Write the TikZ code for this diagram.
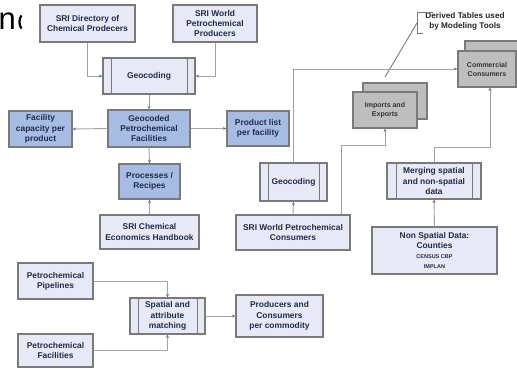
\documentclass[tikz,border=0pt]{standalone}
\usepackage{fontspec}
\setmainfont{Liberation Sans}
\usetikzlibrary{arrows.meta}
\definecolor{lfill}{HTML}{E7EAF6}
\definecolor{bfill}{HTML}{A7BCE2}
\definecolor{gfill}{HTML}{BEBEBE}
\definecolor{bord}{HTML}{7A7A7A}
\definecolor{lcol}{HTML}{A2A2A2}
\definecolor{acol}{HTML}{5E73A0}
\definecolor{tcol}{HTML}{1F2B4A}
\tikzset{
  base/.style={draw=bord, line width=1.2pt, align=center, inner sep=0pt,
    text=tcol, font=\fontsize{8.4}{10.2}\selectfont\bfseries},
  lbox/.style={base, fill=lfill},
  bbox/.style={base, fill=bfill},
  gbox/.style={base, fill=gfill, text=black!80, font=\fontsize{7}{9}\selectfont\bfseries},
  procbox/.style={lbox, path picture={
      \draw[bord, line width=0.9pt] ([xshift=#1]path picture bounding box.north west) -- ([xshift=#1]path picture bounding box.south west);
      \draw[bord, line width=0.9pt] ([xshift=-#1]path picture bounding box.north east) -- ([xshift=-#1]path picture bounding box.south east);}},
  conn/.style={draw=lcol, line width=0.9pt, -{Stealth[length=3.5pt,width=3pt,color=acol]}},
}
\begin{document}
\begin{tikzpicture}[x=1pt,y=-1pt]
\useasboundingbox (0,0) rectangle (517,368);
\fill[white] (0,0) rectangle (517,368);
% title fragment (partly hidden)
\node[anchor=base west, inner sep=0pt, font=\fontsize{31}{31}\selectfont, text=black] (title) at (-1.5,29) {n};
\draw[black, line width=2.2pt] (21.5,15.5) .. controls (18.8,18) and (18.8,26) .. (21.5,28.5);
% left cluster
\node[lbox, minimum width=95pt, minimum height=37pt] (dir) at (87.5,23.5) {SRI Directory of\\Chemical Prodecers};
\node[lbox, minimum width=84pt, minimum height=37pt] (wprod) at (215,23.5) {SRI World\\Petrochemical\\Producers};
\node[procbox=8pt, minimum width=92pt, minimum height=36pt] (geo1) at (149,76) {Geocoding};
\node[bbox, minimum width=82pt, minimum height=37pt] (gpf) at (149,128.5) {Geocoded\\Petrochemical\\Facilities};
\node[bbox, minimum width=63pt, minimum height=36pt] (fcap) at (40.5,129) {Facility\\capacity per\\product};
\node[bbox, minimum width=62pt, minimum height=35pt] (plist) at (258,128.5) {Product list\\per facility};
\node[bbox, minimum width=61pt, minimum height=35pt] (proc) at (149.5,181.5) {Processes /\\Recipes};
\node[lbox, minimum width=99pt, minimum height=34pt] (hand) at (149.5,232) {SRI Chemical\\Economics Handbook};
% bottom cluster
\node[lbox, minimum width=75pt, minimum height=36pt] (pipe) at (55.5,281) {Petrochemical\\Pipelines};
\node[lbox, minimum width=75pt, minimum height=33pt] (pfac) at (55.5,350.5) {Petrochemical\\Facilities};
\node[procbox=8pt, minimum width=75pt, minimum height=36pt] (sam) at (167.5,316) {Spatial and\\attribute\\matching};
\node[lbox, minimum width=87pt, minimum height=42pt] (pcc) at (279.5,316) {Producers and\\Consumers\\per commodity};
% right cluster
\node[procbox=8pt, minimum width=67pt, minimum height=38pt] (geo2) at (293.5,182) {Geocoding};
\node[lbox, minimum width=114pt, minimum height=35pt] (wcons) at (293,232.5) {SRI World Petrochemical\\Consumers};
\node[gbox, minimum width=64pt, minimum height=36pt] (impb) at (395,101) {};
\node[gbox, minimum width=64pt, minimum height=36pt] (imp) at (385,110) {Imports and\\Exports};
\node[gbox, minimum width=58pt, minimum height=36pt] (commb) at (494,59) {};
\node[gbox, minimum width=58pt, minimum height=36pt] (comm) at (487,69) {Commercial\\Consumers};
\node[procbox=9pt, minimum width=94pt, minimum height=36pt] (merge) at (434,181) {Merging spatial\\and non-spatial\\data};
\node[lbox, minimum width=125pt, minimum height=47pt] (nsd) at (434.5,250.5) {Non Spatial Data:\\Counties\\{\fontsize{5.5}{7.5}\selectfont CENSUS CBP}\\{\fontsize{5.5}{7.5}\selectfont IMPLAN}};
% callout
\node[anchor=center, inner sep=0pt, align=center, text=black!85, font=\fontsize{8.2}{9.5}\selectfont\bfseries] (derived) at (465,21.5) {Derived Tables used\\by Modeling Tools};
\coordinate (brt) at (433,12);
\coordinate (brb) at (423,33);
\coordinate (brm) at (417,23);
\coordinate (ctip) at (385,77);
\draw[draw=bord, line width=0.9pt] (brt) -- (brt -| brm) -- (brb -| brm) -- (brb);
\draw[draw=bord, line width=0.9pt] (brm) -- (ctip);
% connectors
\draw[conn] (dir.south) |- (geo1.west);
\draw[conn] (wprod.south) |- (geo1.east);
\draw[conn] (geo1.south) -- (gpf.north);
\draw[conn] (gpf.west) -- (fcap.east);
\draw[conn] (gpf.east) -- (plist.west);
\draw[conn] (gpf.south) -- (proc.north);
\draw[conn] (hand.north) -- (proc.south);
\draw[conn] (pipe.east) -| (sam.north);
\draw[conn] (pfac.east) -| (sam.south);
\draw[conn] (sam.east) -- (pcc.west);
\draw[conn] (wcons.north) -- (geo2.south);
\draw[conn] (geo2.north) |- (comm.west);
\coordinate (ie) at (341,145);
\draw[conn] (wcons.north -| ie) |- (imp.south |- ie) -- (imp.south);
\coordinate (mc) at (490,147);
\draw[conn] (merge.north) |- (mc) -- (mc |- comm.south);
\draw[conn] (nsd.north) -- (merge.south);
\end{tikzpicture}
\end{document}
